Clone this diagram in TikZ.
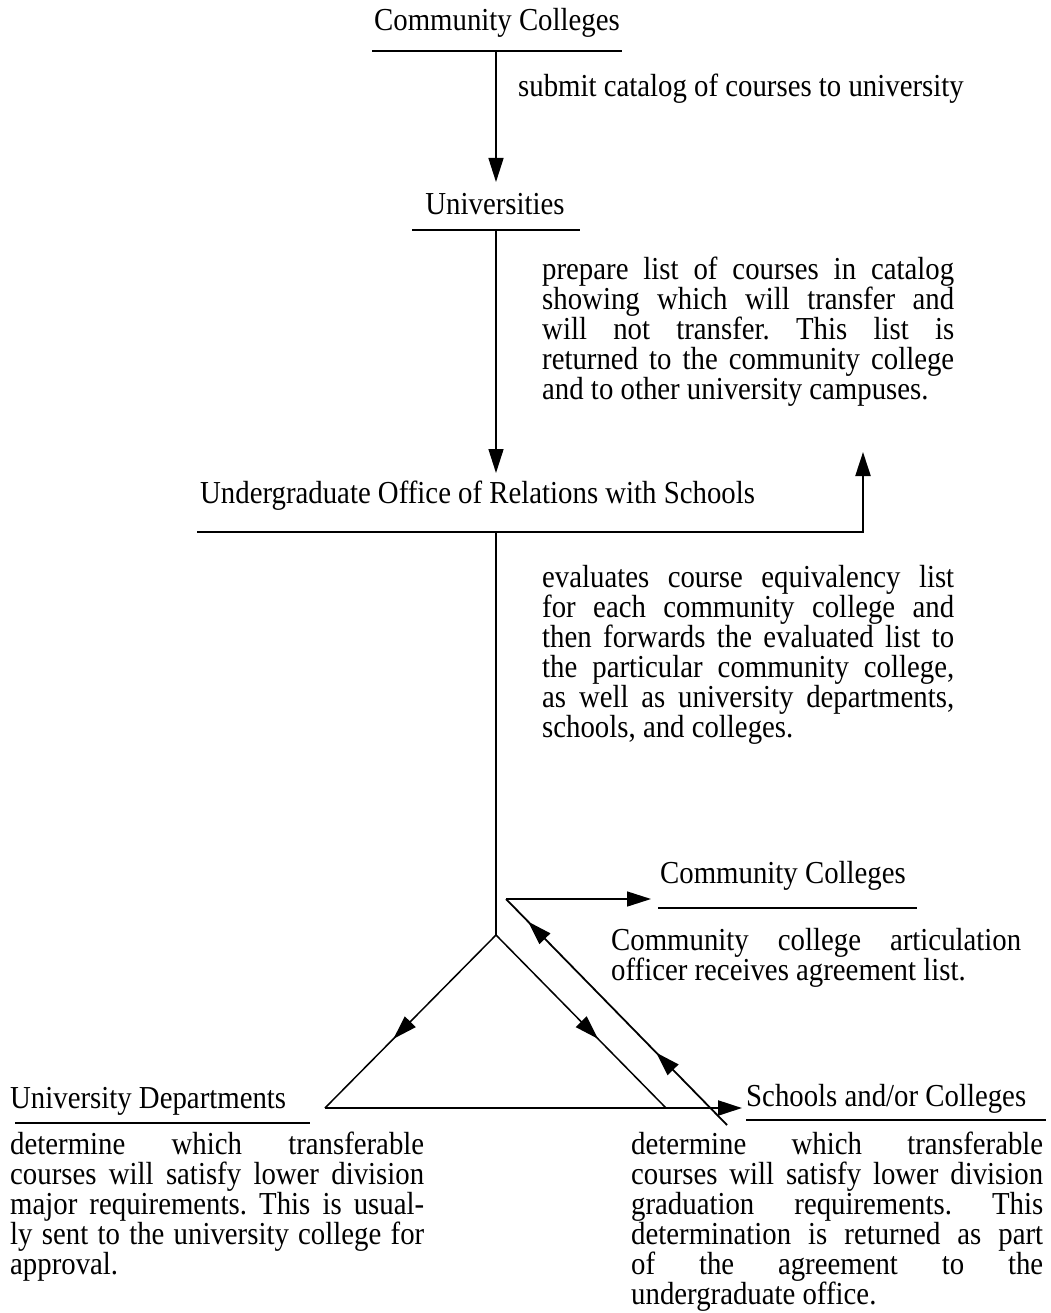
\documentclass[tikz,border=0pt]{standalone}
\usepackage{fontspec}
\setmainfont{Liberation Serif}[FakeStretch=0.9]
\usetikzlibrary{arrows.meta, decorations.markings}
\frenchspacing

\begin{document}
\begin{tikzpicture}[
    x=1pt, y=-1pt,
    txt/.style={font=\fontsize{32}{30}\selectfont, inner sep=0pt},
    head/.style={txt},
    para/.style={txt, anchor=north west, align=justify},
    rule/.style={line width=2.2pt},
    link/.style={line width=1.5pt},
    tip/.style={-{Triangle[length=24pt,width=15pt]}},
    arr/.style={link, tip},
    midtip/.style={postaction={decorate}, decoration={markings,
        mark=at position #1 with {\arrow{Triangle[length=24pt,width=15pt]}}}},
    backtips/.style={postaction={decorate}, decoration={markings,
        mark=at position 0.32 with {\arrow{Triangle[length=24pt,width=15pt]}},
        mark=at position 0.9 with {\arrow{Triangle[length=24pt,width=15pt]}}}}
  ]
  \useasboundingbox (0,0) rectangle (1050,1313);

  % junction points
  \coordinate (j1)    at (496,51);
  \coordinate (uniin) at (496,182);
  \coordinate (j2)    at (496,230);
  \coordinate (uoin)  at (496,473);
  \coordinate (uoL)   at (197,532);
  \coordinate (j3)    at (496,532);
  \coordinate (ret)   at (863,532);
  \coordinate (retup) at (863,452);
  \coordinate (apex)  at (496,935);
  \coordinate (bl)    at (325,1108);
  \coordinate (br)    at (666,1108);
  \coordinate (scin)  at (742,1108);
  \coordinate (ob)    at (727,1125);
  \coordinate (ot)    at (506,899);
  \coordinate (ccin)  at (651,899);

  % headings
  \node[head] (cctop) at (497,23) {Community Colleges};
  \draw[rule] (372,51) -- (622,51);
  \node[head] (uni) at (495,204) {Universities};
  \draw[rule] (412,230) -- (580,230);
  \node[head, anchor=west] (uo) at (200,496) {Undergraduate Office of Relations with Schools};
  \node[head, anchor=west] (cc2) at (660,876) {Community Colleges};
  \draw[rule] (658,908) -- (917,908);
  \node[head, anchor=west] (ud) at (10,1101) {University Departments};
  \draw[rule] (15,1123) -- (310,1123);
  \node[head, anchor=west] (sc) at (746,1099) {Schools and/or Colleges};
  \draw[rule] (746,1120) -- (1046,1120);

  % texts
  \node[txt, anchor=west] (submit) at (518,89) {submit catalog of courses to university};
  \node[para, text width=412pt] (prep) at (542,257) {prepare list of courses in catalog\linebreak
    showing which will transfer and\linebreak will not transfer. This list is\linebreak
    returned to the community college\linebreak and to other university campuses.};
  \node[para, text width=412pt] (eval) at (542,565) {evaluates course equivalency list\linebreak
    for each community college and\linebreak then forwards the evaluated list to\linebreak
    the particular community college,\linebreak as well as university departments,\linebreak
    schools, and colleges.};
  \node[para, text width=410pt] (ccp) at (611,928) {Community college articulation\linebreak
    officer receives agreement list.};
  \node[para, text width=414pt] (udp) at (10,1132) {determine which transferable\linebreak
    courses will satisfy lower division\linebreak major requirements. This is usual-\linebreak
    ly sent to the university college for\linebreak approval.};
  \node[para, text width=412pt] (scp) at (631,1132) {determine which transferable\linebreak
    courses will satisfy lower division\linebreak graduation requirements. This\linebreak
    determination is returned as part\linebreak of the agreement to the\linebreak
    undergraduate office.};

  % flow
  \draw[arr] (j1) -- (uniin);
  \draw[arr] (j2) -- (uoin);
  \draw[rule, tip] (uoL) -- (ret) -- (retup);
  \draw[link] (j3) -- (apex);
  \draw[link, midtip=0.6] (apex) -- (bl);
  \draw[link, midtip=0.6] (apex) -- (br);
  \draw[rule, tip] (bl) -- (scin);
  \draw[link, line width=1.8pt, backtips] (ob) -- (ot);
  \draw[arr] (ot) -- (ccin);
\end{tikzpicture}
\end{document}
